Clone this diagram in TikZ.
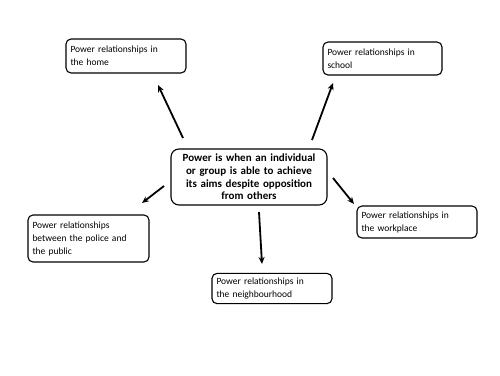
\documentclass[tikz,border=0pt]{standalone}
\usepackage{fontspec}
\setmainfont{Carlito}
\usetikzlibrary{arrows.meta}
\tikzset{
  topicbox/.style={draw, rounded corners=5pt, line width=1.1pt, align=left,
    inner sep=4.5pt, font=\fontsize{9.5}{13}\selectfont, anchor=center},
  mainbox/.style={draw, rounded corners=8pt, line width=1.1pt, align=center,
    inner sep=3pt, font=\fontsize{11}{12.7}\selectfont\bfseries, anchor=center},
  linkarrow/.style={line width=1.8pt, -{Stealth[length=7pt,width=6pt]}}
}
\begin{document}
\begin{tikzpicture}[x=1pt,y=-1pt]
\useasboundingbox (0,0) rectangle (500,375);
\node (main) [mainbox, text width=150pt, minimum height=56pt] at (249,177)
  {Power is when an individual\\or group is able to achieve\\its aims despite opposition\\from others};
\node (home) [topicbox, text width=111pt, minimum height=34pt] at (126,56)
  {Power relationships in\\the home};
\node (school) [topicbox, text width=110pt, minimum height=33pt] at (382.5,58.5)
  {Power relationships in\\school};
\node (police) [topicbox, text width=112pt, minimum height=47pt] at (88.5,238.5)
  {Power relationships\\between the police and\\the public};
\node (work) [topicbox, text width=111pt, minimum height=32pt] at (417,222)
  {Power relationships in\\the workplace};
\node (hood) [topicbox, text width=111pt, minimum height=28pt] at (272,288.5)
  {Power relationships in\\the neighbourhood};

% free ends of the arrows
\coordinate (homeA) at (183,138);  \coordinate (homeB) at (158,85);
\coordinate (schoolA) at (312,140); \coordinate (schoolB) at (333,83);
\coordinate (policeA) at (164,186); \coordinate (policeB) at (142,203);
\coordinate (workA) at (333,178);  \coordinate (workB) at (354,204);
\coordinate (hoodA) at (259,212);  \coordinate (hoodB) at (262,264);

\draw[linkarrow] (homeA) -- (homeB);
\draw[linkarrow] (schoolA) -- (schoolB);
\draw[linkarrow] (policeA) -- (policeB);
\draw[linkarrow] (workA) -- (workB);
\draw[linkarrow] (hoodA) -- (hoodB);
\end{tikzpicture}
\end{document}
